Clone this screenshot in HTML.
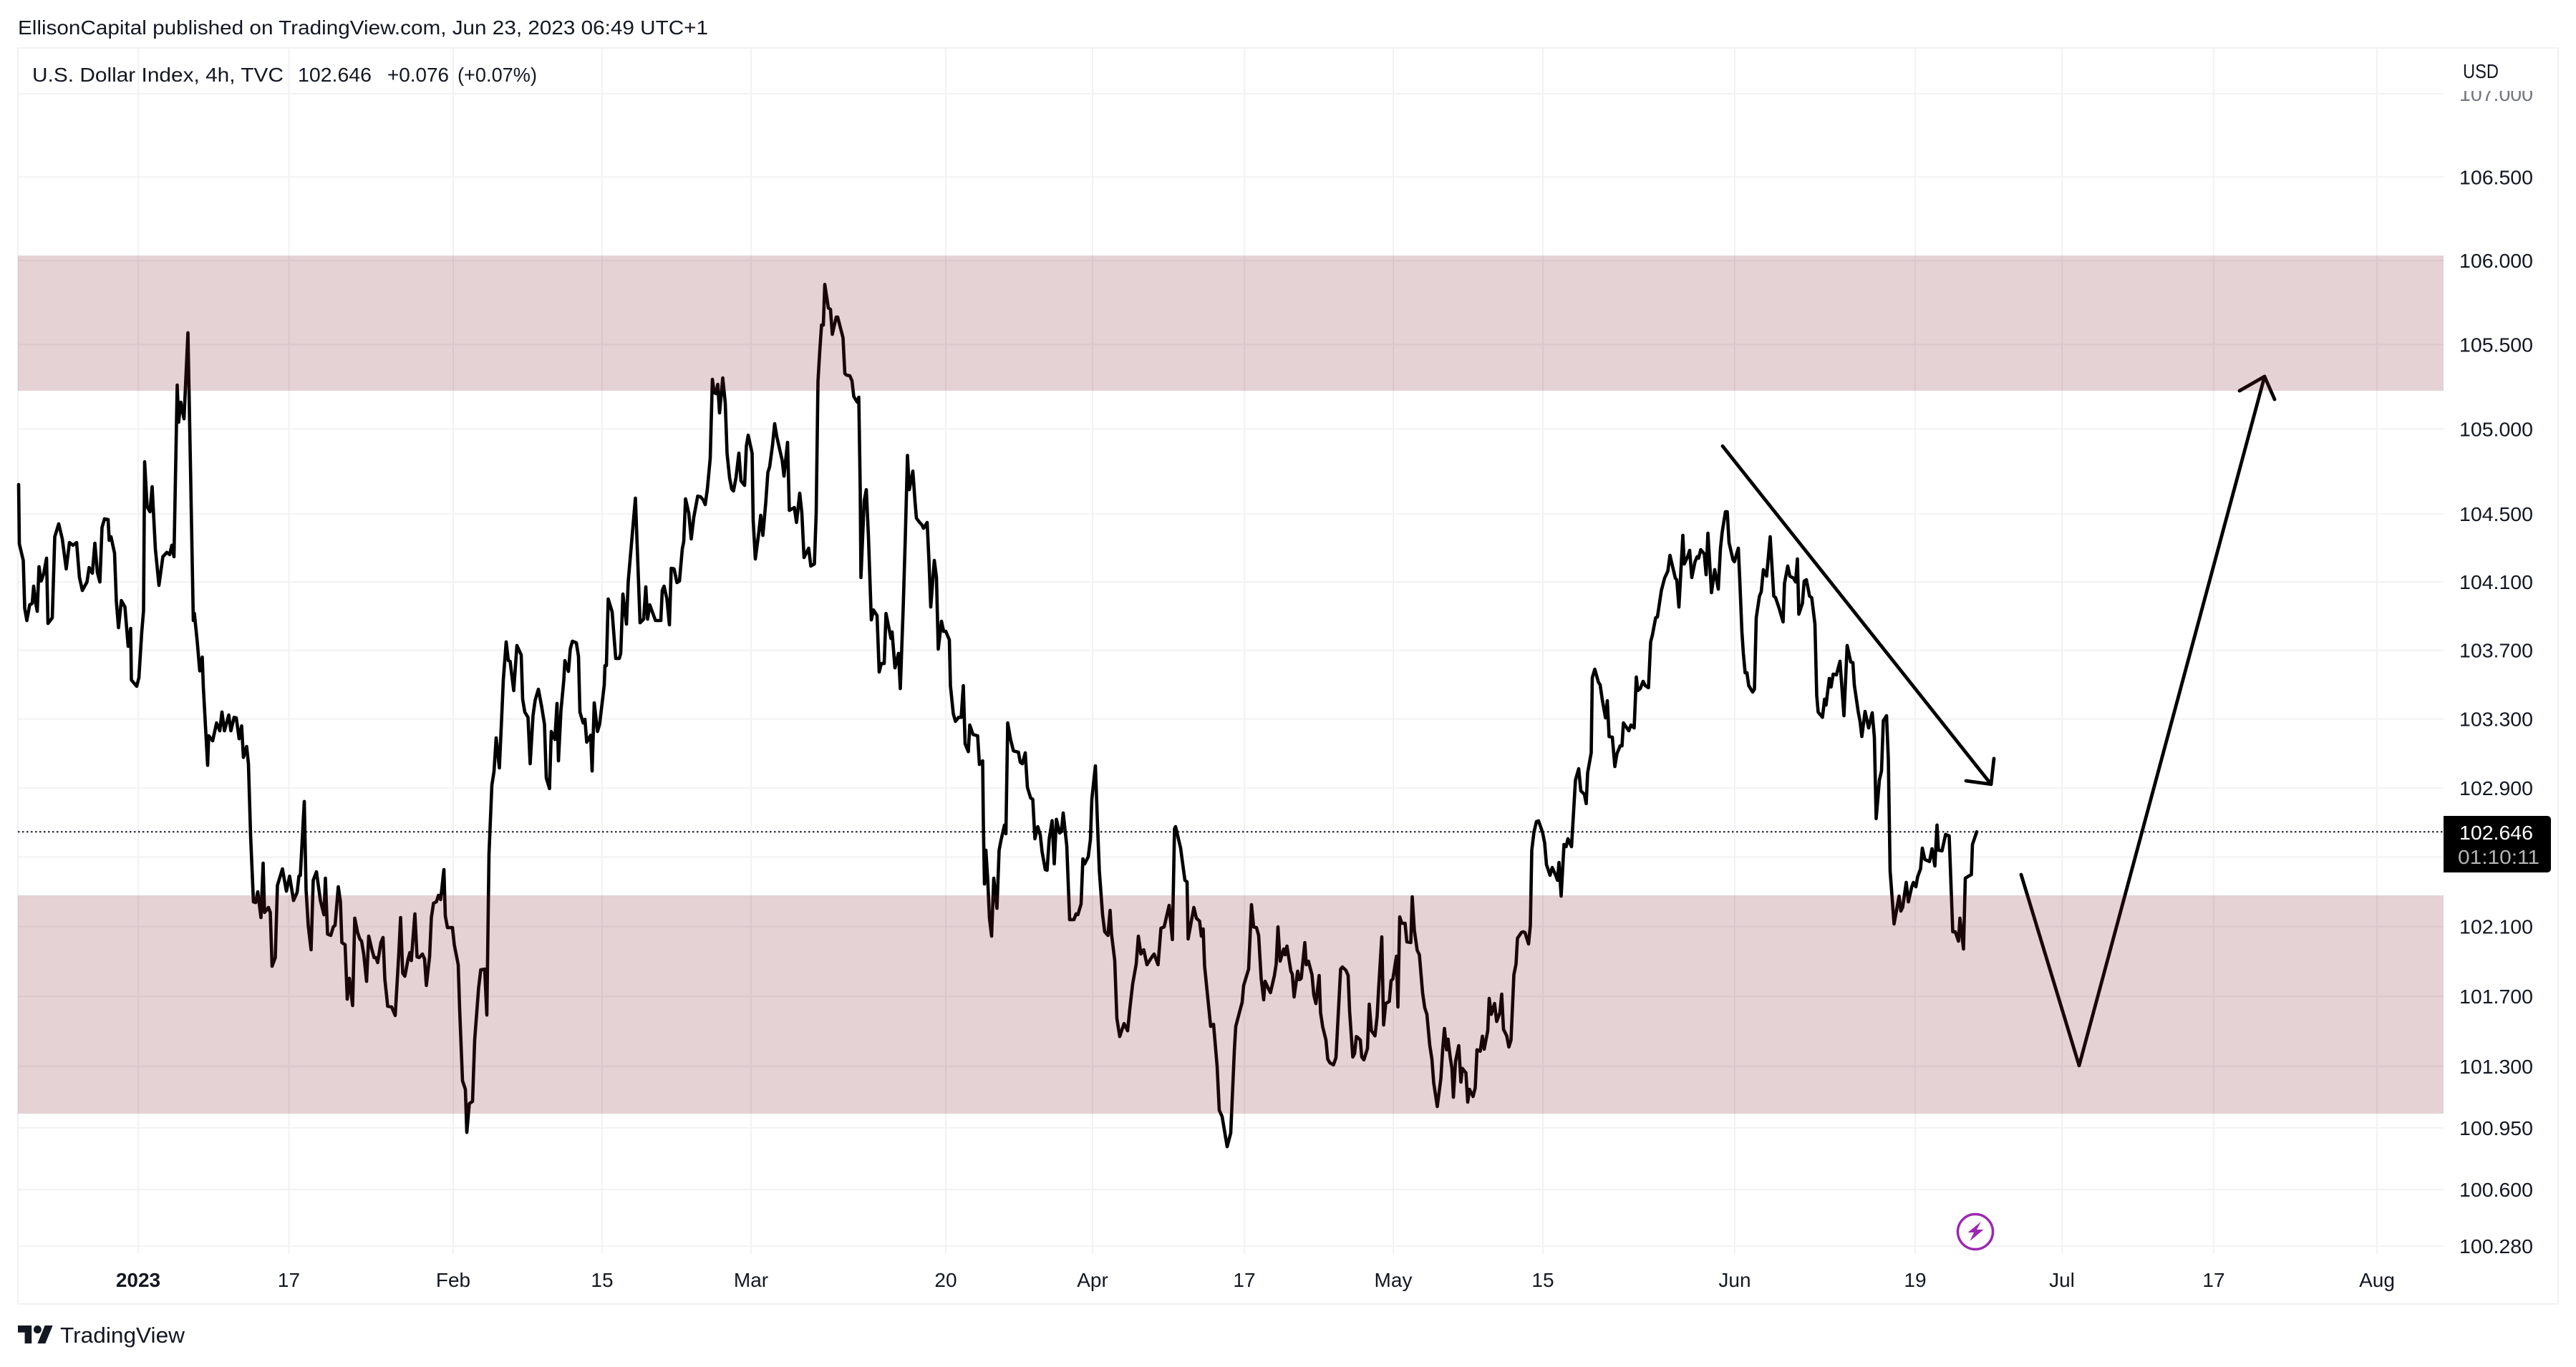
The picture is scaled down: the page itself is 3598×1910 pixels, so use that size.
<!DOCTYPE html>
<html lang="en">
<head>
<meta charset="utf-8">
<title>U.S. Dollar Index chart</title>
<style>
html,body{margin:0;padding:0;background:#fff;width:3598px;height:1910px;overflow:hidden}
svg{display:block}
text{font-family:"Liberation Sans",sans-serif;fill:#131722}
</style>
</head>
<body>
<svg id="chart" xmlns="http://www.w3.org/2000/svg" width="3598" height="1910" viewBox="0 0 3598 1910">
  <defs>
    <clipPath id="axis-clip"><rect x="3413" y="127" width="160" height="1640"/></clipPath>
  </defs>
  <rect x="0" y="0" width="3598" height="1910" fill="#ffffff"/>
  <text x="25" y="48" font-size="28" textLength="964" lengthAdjust="spacingAndGlyphs">EllisonCapital published on TradingView.com, Jun 23, 2023 06:49 UTC+1</text>
  <g id="grid-layer"></g>
  <rect x="25" y="67" width="3548" height="1755" fill="none" stroke="#f0f0f6" stroke-width="2"/>
  <line id="last-price-line" stroke="#131722" stroke-width="2" stroke-dasharray="2.5 3.5"/>
  <polyline id="price-line" fill="none" stroke="#000000" stroke-width="4.6" stroke-linejoin="round" stroke-linecap="round"/>
  <g id="drawings" fill="none" stroke="#000000" stroke-width="4.8" stroke-linejoin="round" stroke-linecap="round"></g>
  <g id="zones"></g>
  <text x="45" y="114" font-size="28" textLength="351" lengthAdjust="spacingAndGlyphs">U.S. Dollar Index, 4h, TVC</text>
  <text x="416" y="114" font-size="28" textLength="103" lengthAdjust="spacingAndGlyphs">102.646</text>
  <text x="541" y="114" font-size="28" textLength="86" lengthAdjust="spacingAndGlyphs">+0.076</text>
  <text x="639" y="114" font-size="28" textLength="111" lengthAdjust="spacingAndGlyphs">(+0.07%)</text>
  <text x="3440" y="109" font-size="28" textLength="50" lengthAdjust="spacingAndGlyphs">USD</text>
  <g id="price-axis"></g>
  <g id="time-axis"></g>
  <path d="M3413 1140H3558a5 5 0 0 1 5 5V1214a5 5 0 0 1 -5 5H3413Z" fill="#000000"/>
  <text x="3435" y="1173" font-size="28" style="fill:#ffffff" textLength="103" lengthAdjust="spacingAndGlyphs">102.646</text>
  <text x="3433" y="1207" font-size="28" style="fill:#b4b4b4" textLength="114" lengthAdjust="spacingAndGlyphs">01:10:11</text>
  <g>
    <circle cx="2759" cy="1721" r="24.5" fill="#ffffff" stroke="#9c27b0" stroke-width="3.5"/>
    <path d="M2767 1707L2748.5 1722L2757 1722L2751.5 1734L2770.5 1718L2761 1718Z" fill="#9c27b0"/>
  </g>
  <g>
    <g transform="translate(25,1846.5) scale(1.37,1.39)" fill="#131722">
      <path d="M14 22H7V11H0V4h14v18zM28 22h-8l7.5-18h8L28 22z"/>
      <circle cx="20" cy="8" r="4"/>
    </g>
    <text x="84" y="1876" font-size="31" textLength="174" lengthAdjust="spacingAndGlyphs">TradingView</text>
  </g>
</svg>
<script>
// Time index of each traced vertex (half-hour session ticks)
const sessionTicks = [
2,4,15,19,25,33,40,44,50,54,59,65,72,80,84,96,103,114,124,135,
144,154,164,172,180,193,199,208,215,222,229,235,242,252,255,260,270,275,281,289,
299,308,315,317,332,338,346,351,354,361,369,375,384,394,405,416,424,430,436,445,
449,455,464,475,482,490,493,501,508,515,518,530,533,544,555,564,570,577,589,595,
604,610,618,625,630,639,644,650,658,664,670,679,685,689,700,705,710,719,725,739,
750,759,770,780,785,789,800,805,811,819,825,834,845,855,859,865,874,881,886,895,
901,905,914,920,926,935,941,949,955,960,966,974,980,989,995,1000,1005,1014,1020,1025,
1033,1044,1054,1064,1069,1075,1081,1090,1095,1099,1109,1115,1121,1130,1136,1141,1150,1155,1161,1169,
1175,1181,1190,1194,1200,1214,1219,1230,1234,1242,1250,1254,1261,1270,1276,1287,1293,1304,1310,1316,
1324,1330,1336,1345,1351,1356,1364,1370,1375,1385,1394,1406,1410,1416,1425,1431,1439,1445,1454,1463,
1471,1476,1485,1490,1500,1506,1510,1517,1525,1528,1538,1543,1549,1560,1566,1570,1579,1584,1589,1600,
1604,1610,1619,1625,1638,1640,1644,1649,1660,1670,1680,1684,1690,1700,1705,1725,1738,1748,1754,1759,
1765,1781,1796,1800,1805,1813,1820,1825,1833,1841,1848,1856,1860,1865,1874,1881,1888,1899,1907,1914,
1920,1926,1934,1940,1945,1950,1955,1960,1969,1976,1981,1988,1994,1999,2006,2014,2020,2030,2035,2040,
2051,2054,2060,2069,2075,2081,2089,2095,2100,2108,2114,2120,2129,2135,2140,2150,2155,2169,2175,2184,
2190,2196,2209,2215,2225,2230,2235,2240,2245,2250,2254,2264,2270,2275,2286,2290,2305,2310,2315,2324,
2330,2335,2345,2349,2353,2355,2364,2370,2376,2384,2390,2400,2406,2412,2420,2425,2439,2442,2450,2460,
2465,2473,2479,2485,2490,2500,2506,2510,2519,2525,2530,2540,2545,2550,2560,2566,2571,2580,2586,2592,
2602,2605,2613,2619,2628,2635,2641,2646,2655,2659,2668,2681,2686,2695,2697,2700,2704,2709,2714,2720,
2726,2735,2741,2746,2756,2760,2765,2773,2781,2795,2800,2806,2814,2820,2829,2835,2841,2849,2856,2861,
2870,2875,2881,2889,2895,2901,2910,2915,2920,2930,2938,2950,2956,2961,2970,2975,2980,2990,2996,3000,
3010,3015,3021,3030,3036,3045,3051,3055,3064,3070,3078,3090,3100,3106,3114,3124,3130,3137,3145,3154,
3168,3174,3185,3193,3202,3216,3225,3231,3234,3248,3260,3266,3269,3285,3292,3301,3306,3311,3315,3332,
3340,3350,3356,3364,3378,3388,3398,3402,3420,3424,3438,3446,3452,3460,3466,3473,3480,3484,3494,3499,3510,
3515,3520,3526,3536,3540,3545,3556,3560,3565,3575,3580,3585,3595,3599,3605,3615,3620,3626,3635,3639,
3645,3654,3659,3665,3675,3682,3695,3700,3710,3716,3720,3729,3734,3739,3744,3750,3754,3760,3770,3775,
3781,3791,3797,3801,3810,3815,3821,3831,3836,3841,3851,3855,3860,3866,3875,3880,3891,3895,3901,3909,
3915,3924,3930,3936,3944,3950,3955,3965,3975,3980,3985,3991,3995,4001,4006,4010,4016,4025,4031,4035,
4045,4050,4055,4065,4071,4076,4085,4091,4096,4106,4110,4116,4125,4131,4140,4145,4150,4159,4165,4171,
4179,4185,4189,4200,4205,4210,4220,4225,4229,4235,4242,4248,4259,4265,4270,4280,4286,4295,4301,4305,
4311,4319,4325,4330,4340,4351,4360,4366,4376,4381,4385,4395,4398,4405,4415,4420,4426,4435,4440,4445,
4454,4461,4467,4476,4481,4485,4500,4506,4515,4521,4525,4532,4540,4546,4555,4561,4566,4575,4580,4591,
4600,4609,4615,4630,4634,4640,4651,4655,4665,4670,4676,4685,4691,4695,4701,4711,4716,4721,4731,4740,
4750,4756,4761,4770,4775,4780,4791,4795,4806,4810,4816,4820,4825,4830,4835,4846,4851,4856,4865,4870,
4876,4885,4895,4905,4910,4920,4931,4935,4944,4950,4960,4966,4971,4975,4985,4990,4996,5005,5011,5020,
5025,5029,5041,5047,5051,5060,5065,5071,5080,5090,5101,5110,5120,5126,5130,5141,5146,5151,5160,5170,
5180,5186,5191,5200,5206,5211,5220,5225,5230,5235,5241,5255,5260,5265,5275,5281,5290,5295,5302,5307,
5315,5320,5327,5340,5347,5355,5361,5365,5375,5385,5395,5405,5412,5421,5425,5435,5440,5449,5457,5460,
5472
];
// Close price at each traced vertex
const closePrices = [
104.672,104.323,104.226,103.945,103.874,103.966,103.974,104.075,103.974,103.928,104.189,104.105,104.147,104.239,103.857,103.890,104.365,104.441,104.352,104.176,
104.331,104.315,104.331,104.126,104.05,104.10,104.184,104.151,104.327,104.155,104.10,104.42,104.47,104.466,104.344,104.365,104.268,103.987,103.832,103.991,
103.953,103.723,103.828,103.527,103.49,103.54,103.807,103.932,104.806,104.541,104.512,104.659,104.294,104.08,104.248,104.273,104.26,104.315,104.248,105.26,
105.04,105.158,105.06,105.57,104.785,103.874,103.915,103.75,103.58,103.66,103.486,103.031,103.202,103.173,103.277,103.231,103.34,103.231,103.323,103.231,
103.31,103.306,103.185,103.26,103.077,103.14,103.04,102.627,102.242,102.238,102.30,102.152,102.465,102.181,102.21,102.181,101.872,101.922,102.337,102.432,
102.304,102.39,102.25,102.296,102.39,102.394,102.821,102.312,102.107,101.967,102.366,102.415,102.25,102.168,102.378,102.057,102.049,102.098,102.107,102.329,
102.242,102.008,101.996,101.684,101.803,101.647,102.148,102.066,102.029,102.016,101.942,101.786,102.045,101.967,101.922,101.922,101.893,102.008,102.037,101.799,
101.643,101.639,101.59,101.942,102.152,101.832,101.815,101.914,101.951,101.905,102.173,101.926,101.922,101.942,101.914,101.762,101.926,102.152,102.234,102.242,
102.28,102.255,102.428,102.16,102.094,102.094,101.996,101.881,101.626,101.218,101.169,100.924,101.088,101.1,101.45,101.749,101.852,101.856,101.593,102.519,
102.916,102.995,103.19,103.016,103.29,103.527,103.749,103.64,103.636,103.465,103.728,103.673,103.415,103.34,103.31,103.04,103.319,103.41,103.473,103.373,
103.269,102.958,102.896,103.227,103.181,103.39,103.057,103.348,103.527,103.64,103.577,103.707,103.753,103.744,103.665,103.34,103.277,103.298,103.165,103.206,
102.998,103.394,103.227,103.269,103.498,103.611,103.611,104.0,103.925,103.653,103.653,103.682,104.029,103.853,104.105,104.592,103.861,103.882,104.071,103.882,
103.966,103.874,103.874,104.05,104.075,104.0,103.849,104.18,104.176,104.096,104.105,104.294,104.336,104.588,104.504,104.352,104.478,104.604,104.6,104.583,
104.554,104.646,104.827,105.294,105.217,105.209,105.264,105.095,105.302,105.154,104.857,104.713,104.646,104.634,104.713,104.857,104.693,104.667,104.9,104.963,
104.857,104.462,104.235,104.378,104.491,104.373,104.562,104.743,104.777,104.904,105.031,104.955,104.87,104.815,104.722,104.921,104.52,104.537,104.449,104.621,
104.504,104.243,104.298,104.193,104.205,104.504,105.281,105.463,105.616,105.616,105.858,105.718,105.709,105.561,105.663,105.663,105.54,105.328,105.319,105.315,
105.285,105.192,105.158,105.188,104.646,104.126,104.575,104.642,104.365,103.878,103.936,103.903,103.573,103.623,103.623,103.915,103.769,103.807,103.598,103.682,
103.477,103.945,104.365,104.844,104.642,104.751,104.575,104.474,104.449,104.436,104.415,104.449,104.226,103.953,104.226,104.126,103.707,103.87,103.811,103.811,
103.761,103.494,103.331,103.286,103.31,103.31,103.494,103.156,103.11,103.265,103.21,103.202,103.036,103.057,102.697,102.345,102.54,102.378,102.148,102.045,
102.378,102.205,102.54,102.594,102.685,102.635,103.277,103.181,103.115,103.107,103.049,103.04,103.103,102.904,102.842,102.834,102.606,102.676,102.627,102.531,
102.428,102.424,102.606,102.71,102.461,102.718,102.639,102.647,102.755,102.565,102.14,102.14,102.173,102.168,102.23,102.49,102.461,102.502,102.602,102.834,
103.028,102.738,102.42,102.168,102.07,102.049,102.193,102.057,101.905,101.572,101.47,101.544,101.503,101.626,101.77,101.885,102.045,101.942,101.967,101.881,
101.926,101.942,101.881,102.09,102.098,102.222,102.025,102.664,102.676,102.552,102.366,102.358,102.029,102.21,102.148,102.131,102.045,102.086,101.872,101.528,
101.54,101.30,101.05,101.014,100.843,100.92,101.385,101.528,101.667,101.761,101.856,102.226,102.098,102.094,102.049,101.803,101.68,101.786,101.741,101.721,101.819,
101.885,102.098,101.901,101.971,101.938,101.988,101.844,101.827,101.696,101.844,101.795,101.803,102.008,101.881,101.901,101.823,101.708,101.659,101.819,101.606,
101.524,101.45,101.341,101.32,101.308,101.349,101.856,101.868,101.848,101.819,101.618,101.353,101.373,101.47,101.462,101.45,101.353,101.337,101.402,101.655,
101.503,101.474,101.585,101.737,102.041,101.536,101.659,101.671,101.79,101.799,101.93,101.639,102.156,102.119,102.119,102.012,102.008,102.271,102.078,101.963,
101.938,101.72,101.634,101.597,101.42,101.341,101.206,101.071,101.23,101.394,101.516,101.394,101.455,101.353,101.288,101.124,101.328,101.418,101.21,101.288,
101.263,101.096,101.169,101.128,101.177,101.394,101.386,101.472,101.398,101.503,101.688,101.597,101.659,101.556,101.606,101.712,101.511,101.474,101.41,101.45,
101.823,101.885,102.033,102.066,102.07,102.066,102.0,102.107,102.54,102.643,102.705,102.709,102.643,102.581,102.457,102.395,102.44,102.399,102.366,102.469,
102.275,102.573,102.56,102.606,102.56,102.945,103.011,102.883,102.863,102.809,102.987,103.103,103.54,103.59,103.515,103.498,103.411,103.306,103.406,103.198,
103.194,103.024,103.099,103.144,103.144,103.277,103.231,103.265,103.248,103.544,103.465,103.477,103.519,103.494,103.482,103.749,103.79,103.89,103.895,104.05,
104.122,104.163,104.256,104.122,104.113,103.953,104.373,104.205,104.252,104.285,104.126,104.218,104.248,104.239,104.289,104.264,104.142,104.386,104.037,104.172,
104.058,104.294,104.394,104.512,104.512,104.331,104.23,104.218,104.298,104.113,103.807,103.682,103.569,103.569,103.494,103.457,103.473,103.89,104.017,104.042,
104.172,104.134,104.365,104.017,104.008,103.945,103.866,104.092,104.193,104.134,104.122,104.1,104.235,103.911,103.974,104.105,104.113,104.017,104.008,103.853,
103.436,103.34,103.31,103.415,103.381,103.536,103.486,103.561,103.557,103.636,103.319,103.728,103.632,103.628,103.498,103.34,103.286,103.198,103.344,103.248,
103.336,103.194,102.722,102.945,102.999,103.29,103.319,103.069,102.42,102.283,102.115,102.275,102.189,102.21,102.354,102.242,102.325,102.354,102.329,102.387,
102.432,102.552,102.486,102.474,102.548,102.449,102.685,102.54,102.536,102.631,102.622,102.07,102.07,102.016,102.148,101.971,102.378,102.39,102.399,102.573,
102.646
];
// Price axis ticks (102.500 sits behind the last-price tag)
const priceTicks = [107,106.5,106,105.5,105,104.5,104.1,103.7,103.3,102.9,102.5,102.1,101.7,101.3,100.95,100.6,100.28];
// Time axis
const timeTickIndex = [336,757,1216,1632,2048,2592,3002,3426,3842,4260,4796,5300,5710,6134,6590];
const timeTickLabels = ['2023','17','Feb','15','Mar','20','Apr','17','May','15','Jun','19','Jul','17','Aug'];
const lastPrice = 102.646;
// Zones: [low, high]
const upperZone = [105.226, 106.03];
const lowerZone = [101.03, 102.28];
// Drawn arrows: time index + price per vertex
const downArrowTicks = [4762,5512];
const downArrowPrices = [104.899,102.921];
const downHeadTicks = [5442,5512,5520];
const downHeadPrices = [102.941,102.921,103.07];
const pathTicks = [5596,5758,6276];
const pathPrices = [102.399,101.304,105.311];
const pathHeadTicks = [6206,6276,6304];
const pathHeadPrices = [105.226,105.311,105.175];

const PLOT_LEFT = 25, PLOT_RIGHT = 3413, PLOT_TOP = 67, PLOT_BOTTOM = 1752;
const xAt = t => PLOT_LEFT + t * 0.5;
const yAt = p => 131 + 24823 * Math.log(107 / p);
const SVGNS = 'http://www.w3.org/2000/svg';
function make(tag, attrs, parent) {
  const el = document.createElementNS(SVGNS, tag);
  for (const k in attrs) el.setAttribute(k, attrs[k]);
  parent.appendChild(el);
  return el;
}
const pts = (ts, ps) => ts.map((t, i) => xAt(t).toFixed(1) + ',' + yAt(ps[i]).toFixed(1)).join(' ');

const gridLayer = document.getElementById('grid-layer');
timeTickIndex.forEach(t => {
  const el = make('line', {x1: xAt(t), x2: xAt(t), y1: PLOT_TOP, y2: PLOT_BOTTOM, stroke: '#f2f2f4', 'stroke-width': 2}, gridLayer);
  
  
});
priceTicks.forEach(p => {
  const el = make('line', {x1: PLOT_LEFT, x2: PLOT_RIGHT, y1: yAt(p), y2: yAt(p), stroke: '#f2f2f4', 'stroke-width': 2}, gridLayer);
  
  
});

const lastLine = document.getElementById('last-price-line');
lastLine.setAttribute('x1', PLOT_LEFT);
lastLine.setAttribute('x2', PLOT_RIGHT);
lastLine.setAttribute('y1', yAt(lastPrice));
lastLine.setAttribute('y2', yAt(lastPrice));

document.getElementById('price-line').setAttribute('points', pts(sessionTicks, closePrices));

const drawings = document.getElementById('drawings');
const arrow1 = make('polyline', {points: pts(downArrowTicks, downArrowPrices)}, drawings);


const arrow1Head = make('polyline', {points: pts(downHeadTicks, downHeadPrices)}, drawings);


const arrow2 = make('polyline', {points: pts(pathTicks, pathPrices)}, drawings);


const arrow2Head = make('polyline', {points: pts(pathHeadTicks, pathHeadPrices)}, drawings);



const zones = document.getElementById('zones');
const zoneFill = 'rgba(120,30,40,0.2)';
const zoneA = make('rect', {x: PLOT_LEFT, width: PLOT_RIGHT - PLOT_LEFT, y: yAt(upperZone[1]), height: yAt(upperZone[0]) - yAt(upperZone[1]), fill: zoneFill}, zones);


const zoneB = make('rect', {x: PLOT_LEFT, width: PLOT_RIGHT - PLOT_LEFT, y: yAt(lowerZone[1]), height: yAt(lowerZone[0]) - yAt(lowerZone[1]), fill: zoneFill}, zones);



const priceAxis = document.getElementById('price-axis');
priceTicks.forEach((p, i) => {
  const attrs = {x: 3435, y: yAt(p) + 10, 'font-size': 28, textLength: 103, lengthAdjust: 'spacingAndGlyphs'};
  if (i === 0) { attrs['clip-path'] = 'url(#axis-clip)'; attrs.style = 'fill:#74767d'; }
  const el = make('text', attrs, priceAxis);
  el.textContent = p.toFixed(3);
  
  
});

const timeAxis = document.getElementById('time-axis');
timeTickIndex.forEach((t, i) => {
  const attrs = {x: xAt(t), y: 1798, 'font-size': 28, 'text-anchor': 'middle'};
  if (timeTickLabels[i] === '2023') attrs['font-weight'] = 'bold';
  const el = make('text', attrs, timeAxis);
  el.textContent = timeTickLabels[i];
  
  
});
</script>
</body>
</html>
